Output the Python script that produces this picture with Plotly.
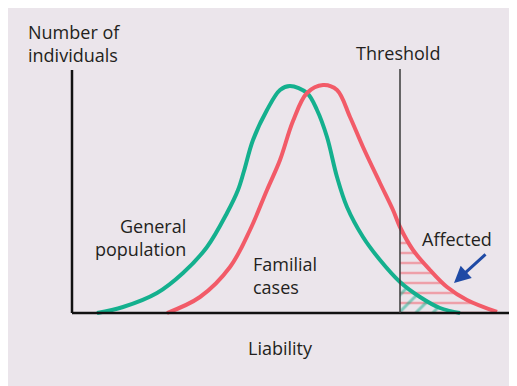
import plotly.graph_objects as go

# curves: liability vs number of individuals
general_x = [25, 51, 85, 111, 135, 155, 166, 172, 181, 195, 208, 218, 235, 245, 255, 265, 275, 291, 308, 328, 348, 368, 388]
general_y = [0, 6, 20, 40, 66, 100, 123, 142, 173, 203, 223, 227, 220, 203, 176, 136, 106, 76, 53, 31, 16, 5, 0]

familial_x = [95, 128, 158, 178, 195, 208, 221, 235, 251, 265, 278, 291, 308, 321, 328, 341, 358, 375, 395, 425]
familial_y = [0, 16, 46, 83, 123, 153, 192, 220, 228, 223, 196, 166, 130, 103, 86, 63, 43, 26, 13, 1]

threshold = 328
x_axis_end = 439
y_axis_top = 243

GREEN = "#14b08e"
RED = "#f25b68"
BG = "#ebe5eb"
TXT = "#231f20"
FONT = "Open Sans"

fig = go.Figure()

# shaded tails beyond the threshold
red_tail = [(x, y) for x, y in zip(familial_x, familial_y) if x >= threshold]
green_tail = [(x, y) for x, y in zip(general_x, general_y) if x >= threshold]

fig.add_trace(go.Scatter(
    x=[p[0] for p in red_tail], y=[p[1] for p in red_tail],
    mode="lines", line=dict(width=0, shape="spline"),
    fill="tozeroy", fillcolor="rgba(0,0,0,0)",
    fillpattern=dict(shape="-", fgcolor=RED, bgcolor="rgba(0,0,0,0)",
                     size=10, solidity=0.25, fillmode="overlay"),
    hoverinfo="skip"))
fig.add_trace(go.Scatter(
    x=[p[0] for p in green_tail], y=[p[1] for p in green_tail],
    mode="lines", line=dict(width=0, shape="spline"),
    fill="tozeroy", fillcolor="rgba(0,0,0,0)",
    fillpattern=dict(shape="/", fgcolor=GREEN, bgcolor="rgba(0,0,0,0)",
                     size=12, solidity=0.25, fillmode="overlay"),
    hoverinfo="skip"))

fig.add_trace(go.Scatter(x=general_x, y=general_y, mode="lines",
                         line=dict(color=GREEN, width=4, shape="spline", smoothing=1.0)))
fig.add_trace(go.Scatter(x=familial_x, y=familial_y, mode="lines",
                         line=dict(color=RED, width=4, shape="spline", smoothing=1.0)))

# axes and threshold
fig.add_shape(type="line", x0=0, y0=0, x1=x_axis_end, y1=0,
              line=dict(color="#111", width=2.5), layer="above")
fig.add_shape(type="line", x0=0, y0=0, x1=0, y1=y_axis_top,
              line=dict(color="#111", width=2.5), layer="above")
fig.add_shape(type="line", x0=threshold, y0=0, x1=threshold, y1=y_axis_top + 1,
              line=dict(color="#3a3a3a", width=1.5), layer="above")

txt = dict(family=FONT, size=18, color=TXT)
fig.add_annotation(x=-46, y=270, text="Number of<br>individuals", showarrow=False,
                   xanchor="left", align="left", font=txt)
fig.add_annotation(x=326, y=260, text="Threshold", showarrow=False, font=txt)
fig.add_annotation(x=116, y=76, text="General<br>population", showarrow=False,
                   xanchor="right", align="right", font=txt)
fig.add_annotation(x=179, y=38, text="Familial<br>cases", showarrow=False,
                   xanchor="left", align="left", font=txt)
fig.add_annotation(x=385, y=74, text="Affected", showarrow=False, font=txt)
fig.add_annotation(x=208, y=-35, text="Liability", showarrow=False, font=txt)
fig.add_annotation(x=382, y=30, ax=415, ay=60, axref="x", ayref="y", text="",
                   showarrow=True, arrowhead=2, arrowsize=1.1, arrowwidth=3,
                   arrowcolor="#1f4aa5")

fig.update_layout(
    width=517, height=386,
    margin=dict(l=0, r=0, t=0, b=0),
    paper_bgcolor=BG, plot_bgcolor=BG,
    showlegend=False,
    xaxis=dict(range=[-64, 453], visible=False, fixedrange=True),
    yaxis=dict(range=[-81, 305], visible=False, fixedrange=True),
)

fig.write_html("out.html")
